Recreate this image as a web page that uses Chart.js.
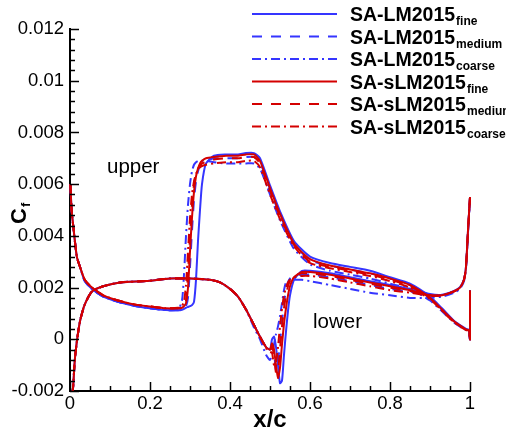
<!DOCTYPE html>
<html>
<head>
<meta charset="utf-8">
<script src="https://cdn.jsdelivr.net/npm/chart.js@4/dist/chart.umd.min.js"></script>
<style>
html, body { margin: 0; padding: 0; background: #fff; }
#wrap { width: 506px; height: 433px; }
</style>
</head>
<body>
<div id="wrap"><canvas id="cf" width="506" height="433"></canvas></div>
<script>
const FONT = "'Liberation Sans', Arial, Helvetica, sans-serif";

// x/c stations on the upper and lower surface
const xUpper = [0.001, 0.004, 0.008, 0.017, 0.025, 0.037, 0.055, 0.083, 0.12, 0.16, 0.2, 0.24,
  0.27, 0.28, 0.285, 0.29, 0.295, 0.3, 0.305, 0.31, 0.315, 0.32, 0.325, 0.33,
  0.34, 0.36, 0.39, 0.42, 0.44, 0.46, 0.475, 0.5, 0.525, 0.56, 0.6, 0.65,
  0.7, 0.75, 0.8, 0.85, 0.9, 0.93, 0.96, 0.98, 0.99, 0.997, 1, 1];
const xLower = [0.006, 0.008, 0.012, 0.017, 0.025, 0.037, 0.055, 0.083, 0.125, 0.19, 0.25, 0.3,
  0.35, 0.375, 0.4, 0.42, 0.44, 0.46, 0.475, 0.49, 0.5, 0.505, 0.51, 0.515,
  0.52, 0.525, 0.53, 0.535, 0.54, 0.545, 0.55, 0.56, 0.58, 0.6, 0.65, 0.7,
  0.75, 0.8, 0.85, 0.9, 0.93, 0.96, 0.975, 0.985, 0.99, 0.995, 1];

// SA-LM2015 upper
const lmFineUp = [0.0060, 0.0050, 0.0044, 0.0032, 0.0028, 0.00225, 0.00195, 0.00165, 0.00145, 0.0013, 0.0012, 0.00113,
  0.00112, 0.00114, 0.00118, 0.00122, 0.00125, 0.00128, 0.00132, 0.00145, 0.0023, 0.0038, 0.0050, 0.0060,
  0.0068, 0.0071, 0.00715, 0.00715, 0.0072, 0.0072, 0.0070, 0.00595, 0.00495, 0.0038, 0.0032, 0.00295,
  0.0028, 0.00265, 0.0024, 0.00215, 0.00165, 0.0012, 0.00072, 0.0005, 0.0004, 0.00036, 0.0, 0.0019];
const lmMedUp = [0.0060, 0.0050, 0.0044, 0.0032, 0.0028, 0.00225, 0.00195, 0.00165, 0.00145, 0.0013, 0.0012, 0.00113,
  0.00112, 0.00115, 0.0012, 0.00128, 0.0016, 0.0028, 0.0042, 0.0054, 0.0061, 0.0065, 0.0067, 0.0068,
  0.0069, 0.0070, 0.0070, 0.0070, 0.00705, 0.00705, 0.00685, 0.0058, 0.0048, 0.0037, 0.00305, 0.00285,
  0.0027, 0.00255, 0.00235, 0.0021, 0.0016, 0.00115, 0.0007, 0.00047, 0.00038, 0.00035, 0.0, 0.0019];
const lmCoarseUp = [0.0060, 0.0050, 0.0044, 0.0032, 0.0028, 0.00225, 0.00195, 0.00165, 0.00145, 0.0013, 0.0012, 0.00113,
  0.00115, 0.0015, 0.0025, 0.0040, 0.0052, 0.0060, 0.0065, 0.00675, 0.00685, 0.0069, 0.0069, 0.0069,
  0.0069, 0.00685, 0.0068, 0.0068, 0.0068, 0.0068, 0.0066, 0.0056, 0.0046, 0.0035, 0.0029, 0.00265,
  0.0025, 0.00235, 0.00215, 0.00195, 0.0015, 0.00108, 0.00065, 0.00044, 0.00036, 0.00033, 0.0, 0.0019];

// SA-sLM2015 upper
const slmFineUp = [0.0060, 0.0050, 0.0044, 0.0032, 0.0028, 0.0023, 0.0020, 0.0017, 0.0015, 0.00135, 0.00127, 0.0012,
  0.0012, 0.00122, 0.00128, 0.0014, 0.0020, 0.0034, 0.0047, 0.0057, 0.0063, 0.0066, 0.0068, 0.0069,
  0.0070, 0.00705, 0.0071, 0.0071, 0.00715, 0.00715, 0.0069, 0.00585, 0.00485, 0.0037, 0.0031, 0.00285,
  0.0027, 0.00255, 0.00235, 0.0021, 0.0016, 0.00115, 0.0007, 0.00048, 0.00038, 0.00035, 0.0, 0.0019];
const slmMedUp = [0.0060, 0.0050, 0.0044, 0.0032, 0.0028, 0.0023, 0.0020, 0.0017, 0.0015, 0.00135, 0.00127, 0.0012,
  0.0012, 0.00125, 0.0013, 0.0015, 0.0026, 0.0040, 0.0052, 0.0060, 0.0064, 0.0066, 0.0067, 0.0068,
  0.00685, 0.00695, 0.0070, 0.0070, 0.00705, 0.00705, 0.0068, 0.00575, 0.00475, 0.00365, 0.0030, 0.0028,
  0.00265, 0.0025, 0.0023, 0.00205, 0.00158, 0.00112, 0.00068, 0.00046, 0.00037, 0.00034, 0.0, 0.0019];
const slmCoarseUp = [0.0060, 0.0050, 0.0044, 0.0032, 0.0028, 0.0023, 0.0020, 0.0017, 0.0015, 0.00135, 0.00127, 0.0012,
  0.00122, 0.0013, 0.00145, 0.0021, 0.0034, 0.0047, 0.0056, 0.0061, 0.0064, 0.00655, 0.00665, 0.0067,
  0.00675, 0.0068, 0.00685, 0.00685, 0.0069, 0.0069, 0.00665, 0.0056, 0.00465, 0.0036, 0.00295, 0.00275,
  0.0026, 0.00245, 0.00225, 0.0020, 0.00155, 0.0011, 0.00066, 0.00045, 0.00036, 0.00033, 0.0, 0.0019];

// SA-LM2015 lower
const lmFineLo = [-0.0021, -0.0018, -0.0008, -0.0001, 0.0007, 0.00135, 0.00185, 0.00205, 0.0022, 0.00225, 0.00235, 0.00235,
  0.0023, 0.0022, 0.00195, 0.00165, 0.00115, 0.00055, 0.0001, -0.0003, -0.0004, 0.0, 0.0001, -0.0003,
  -0.0010, -0.0017, -0.0016, -0.0006, 0.0003, 0.0011, 0.0017, 0.0023, 0.00265, 0.00265, 0.00255, 0.0024,
  0.00225, 0.0021, 0.00195, 0.00175, 0.00172, 0.00187, 0.00202, 0.00232, 0.0028, 0.0042, 0.0055];
const lmMedLo = [-0.0021, -0.0018, -0.0008, -0.0001, 0.0007, 0.00135, 0.00185, 0.00205, 0.0022, 0.00225, 0.00235, 0.00235,
  0.0023, 0.0022, 0.00195, 0.00165, 0.00115, 0.00055, 0.0001, -0.0003, -0.0004, -0.0002, -0.0005, -0.0012,
  -0.0009, -0.0001, 0.0007, 0.0014, 0.0019, 0.0022, 0.00235, 0.00245, 0.0025, 0.0025, 0.0024, 0.00225,
  0.0021, 0.00195, 0.00185, 0.0017, 0.0017, 0.00185, 0.0020, 0.0023, 0.0028, 0.0042, 0.0055];
const lmCoarseLo = [-0.0021, -0.0018, -0.0008, -0.0001, 0.0007, 0.00135, 0.00185, 0.00205, 0.0022, 0.00225, 0.00235, 0.00235,
  0.0023, 0.0022, 0.00195, 0.00165, 0.00115, 0.00045, 0.0, -0.0006, -0.0008, -0.0006, -0.0002, 0.0002,
  0.0005, 0.0009, 0.0014, 0.0019, 0.0022, 0.00225, 0.00228, 0.0023, 0.0023, 0.00225, 0.0021, 0.00195,
  0.0018, 0.0017, 0.0016, 0.0016, 0.00165, 0.0018, 0.00195, 0.00225, 0.00275, 0.0041, 0.0054];

// SA-sLM2015 lower
const slmFineLo = [-0.0021, -0.0018, -0.0008, -0.0001, 0.0007, 0.00135, 0.00185, 0.00205, 0.0022, 0.00225, 0.00235, 0.00235,
  0.0023, 0.0022, 0.00195, 0.00165, 0.00115, 0.00055, 0.0001, -0.0003, -0.0004, -0.00015, -0.0004, -0.0010,
  -0.0015, -0.0011, -0.0002, 0.0006, 0.0012, 0.0017, 0.00205, 0.0024, 0.0026, 0.0026, 0.0025, 0.00235,
  0.0022, 0.00205, 0.0019, 0.0017, 0.0017, 0.00185, 0.0020, 0.0023, 0.0028, 0.0042, 0.0055];
const slmMedLo = [-0.0021, -0.0018, -0.0008, -0.0001, 0.0007, 0.00135, 0.00185, 0.00205, 0.0022, 0.00225, 0.00235, 0.00235,
  0.0023, 0.0022, 0.00195, 0.00165, 0.00115, 0.00055, 0.0001, -0.0003, -0.00045, -0.0003, -0.0006, -0.0013,
  -0.0012, -0.0004, 0.0005, 0.0012, 0.0017, 0.00205, 0.00225, 0.00245, 0.00255, 0.00255, 0.00245, 0.0023,
  0.00215, 0.0020, 0.00187, 0.0017, 0.0017, 0.00185, 0.0020, 0.0023, 0.0028, 0.0042, 0.0055];
const slmCoarseLo = [-0.0021, -0.0018, -0.0008, -0.0001, 0.0007, 0.00135, 0.00185, 0.00205, 0.0022, 0.00225, 0.00235, 0.00235,
  0.0023, 0.0022, 0.00195, 0.00165, 0.00115, 0.00055, 0.0001, -0.00035, -0.0005, -0.0005, -0.0010, -0.0009,
  -0.0003, 0.0005, 0.0012, 0.0017, 0.0020, 0.0022, 0.0023, 0.0024, 0.00245, 0.00245, 0.00235, 0.0022,
  0.00205, 0.0019, 0.0018, 0.00168, 0.0017, 0.00185, 0.0020, 0.0023, 0.0028, 0.0042, 0.0055];

const seriesNames = ['SA-LM2015', 'SA-LM2015', 'SA-LM2015', 'SA-sLM2015', 'SA-sLM2015', 'SA-sLM2015'];
const seriesSubs = ['fine', 'medium', 'coarse', 'fine', 'medium', 'coarse'];
const upperSets = [lmFineUp, lmMedUp, lmCoarseUp, slmFineUp, slmMedUp, slmCoarseUp];
const lowerSets = [lmFineLo, lmMedLo, lmCoarseLo, slmFineLo, slmMedLo, slmCoarseLo];

const BLUE = '#3535ff';
const RED = '#d40000';
const colors = [BLUE, BLUE, BLUE, RED, RED, RED];
const dashes = [[], [10, 9], [9, 4, 2, 4], [], [10, 9], [9, 4, 2, 4]];

function toPoints(xs, ys) {
  return xs.map((x, i) => ({ x: x, y: ys[i] }));
}

const datasets = [];
seriesNames.forEach((name, i) => {
  [[xUpper, upperSets[i]], [xLower, lowerSets[i]]].forEach(pair => {
    datasets.push({
      label: name + ' ' + seriesSubs[i],
      data: toPoints(pair[0], pair[1]),
      borderColor: colors[i],
      borderDash: dashes[i],
      borderWidth: 2,
      pointRadius: 0,
      tension: 0.2,
      fill: false,
      order: 20 - datasets.length, // later series painted on top, like the original
      clip: { left: 3, right: 3, top: 3, bottom: 0 }
    });
  });
});

function fmt(v) {
  return parseFloat(Number(v).toFixed(4)).toString();
}

// inward ticks, legend, axis titles and surface labels
const decor = {
  id: 'decor',
  afterDraw(chart) {
    const ctx = chart.ctx;
    const xs = chart.scales.x, ys = chart.scales.y;
    const a = chart.chartArea;
    ctx.save();
    ctx.strokeStyle = '#000';
    ctx.lineWidth = 1.5;
    for (let k = 0; k <= 35; k++) {
      const py = Math.round(ys.getPixelForValue(-0.002 + k * 0.0004)) + 0.5;
      const len = k % 5 === 0 ? 9 : 5;
      ctx.beginPath();
      ctx.moveTo(a.left, py);
      ctx.lineTo(a.left + len, py);
      ctx.stroke();
    }
    for (let k = 0; k <= 20; k++) {
      const px = Math.round(xs.getPixelForValue(k * 0.05)) + 0.5;
      const len = k % 4 === 0 ? 9 : 5;
      ctx.beginPath();
      ctx.moveTo(px, a.bottom);
      ctx.lineTo(px, a.bottom - len);
      ctx.stroke();
    }

    // legend
    seriesNames.forEach((name, i) => {
      const y = 14 + i * 22.5;
      ctx.strokeStyle = colors[i];
      ctx.lineWidth = 2;
      ctx.setLineDash(dashes[i]);
      ctx.beginPath();
      ctx.moveTo(252, y);
      ctx.lineTo(337, y);
      ctx.stroke();
      ctx.setLineDash([]);
      ctx.fillStyle = '#000';
      ctx.textAlign = 'left';
      ctx.textBaseline = 'alphabetic';
      ctx.font = 'bold 19.5px ' + FONT;
      ctx.fillText(name, 350, y + 7);
      const w = ctx.measureText(name).width;
      ctx.font = 'bold 12px ' + FONT;
      ctx.fillText(seriesSubs[i], 350 + w + 1, y + 11);
    });

    // surface labels
    ctx.font = '20.5px ' + FONT;
    ctx.fillText('upper', 107, 173);
    ctx.fillText('lower', 313, 328);

    // axis titles
    ctx.font = 'bold 24px ' + FONT;
    ctx.textAlign = 'center';
    ctx.fillText('x/c', 270, 427);

    ctx.translate(26, 224);
    ctx.rotate(-Math.PI / 2);
    ctx.textAlign = 'left';
    ctx.font = 'bold 22px ' + FONT;
    ctx.fillText('C', 0, 0);
    const cw = ctx.measureText('C').width;
    ctx.font = 'bold 13px ' + FONT;
    ctx.fillText('f', cw + 1, 4);
    ctx.restore();
  }
};

const ctx = document.getElementById('cf').getContext('2d');
const chart = new Chart(ctx, {
  type: 'line',
  data: { datasets: datasets },
  options: {
    responsive: false,
    animation: false,
    devicePixelRatio: 1,
    layout: { padding: { top: 29, right: 36, left: 0, bottom: 0 } },
    plugins: { legend: { display: false }, tooltip: { enabled: false } },
    scales: {
      x: {
        type: 'linear',
        min: 0,
        max: 1,
        afterFit(scale) { scale.height = 42; },
        grid: { display: false, drawTicks: false },
        border: { display: true, color: '#000', width: 2 },
        ticks: {
          stepSize: 0.2,
          color: '#000',
          padding: 2,
          maxRotation: 0,
          font: { family: FONT, size: 18.5 },
          callback: v => fmt(v)
        }
      },
      y: {
        type: 'linear',
        min: -0.002,
        max: 0.012,
        afterFit(scale) { scale.width = 70; },
        grid: { display: false, drawTicks: false },
        border: { display: true, color: '#000', width: 2 },
        ticks: {
          stepSize: 0.002,
          color: '#000',
          padding: 6,
          font: { family: FONT, size: 18.5 },
          callback: v => fmt(v)
        }
      }
    }
  },
  plugins: [decor]
});
</script>
</body>
</html>
